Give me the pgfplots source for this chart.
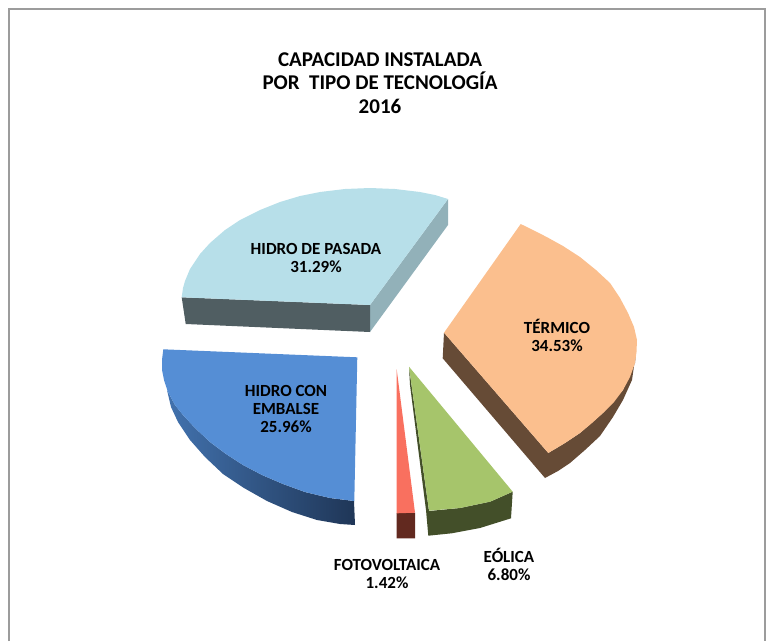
\documentclass[border=0pt]{standalone}
\usepackage{fontspec}
\setmainfont{Carlito}
\usepackage{pgfplots}
\pgfplotsset{compat=1.18}
\definecolor{marco}{HTML}{9C9C9C}
\definecolor{pasadaT}{HTML}{B7DFE9}
\definecolor{pasadaF}{HTML}{505E62}
\definecolor{pasadaL}{HTML}{92B1B9}
\definecolor{embalseT}{HTML}{558ED5}
\definecolor{embalseA}{HTML}{4272AE}
\definecolor{embalseB}{HTML}{1F3657}
\definecolor{termicoT}{HTML}{FBBF8E}
\definecolor{termicoS}{HTML}{664B36}
\definecolor{eolicaT}{HTML}{A6C56B}
\definecolor{eolicaS}{HTML}{434F29}
\definecolor{fotoT}{HTML}{F9705F}
\definecolor{fotoS}{HTML}{62291F}
\tikzset{lab/.style={font=\fontsize{17}{18}\selectfont\bfseries, align=center, text=black}}
\begin{document}
\begin{tikzpicture}
\path[use as bounding box] (0,0) rectangle (771pt,641pt);
\begin{axis}[
    at={(0,0)}, anchor=south west,
    width=771pt, height=641pt, scale only axis,
    hide axis,
    xmin=0, xmax=771, ymin=0, ymax=641,
    y dir=reverse,
    clip=false,
]
% marco
\addplot[marco, line width=1.4pt] coordinates {(9,641)(9,9)(765,9)(765,641)};

% hidro de pasada
\addplot[draw=none, fill=pasadaL] coordinates {(370,305)(448,199)(448,225)(370,332)} --cycle;
\addplot[draw=none, fill=pasadaF] coordinates {(181.7,297.3)(370,305)(370,332)(185.7,324)} --cycle;
\addplot[draw=none, fill=pasadaT] coordinates {(181.7,297.3)(183,288)(185,281)(190,269)(200,254)(210,243)(225,230)(240,220)(260,210)(280,202)(300,196)(320,192)(345,189)(370,188)(395,189)(420,192)(435,195)(448,199)(370,305)} --cycle;

% hidro con embalse
\addplot[draw=none, left color=embalseA, right color=embalseB] coordinates {(167,390)(171,407)(178,422)(190,440)(205,457)(223,474)(244,488)(267,501)(292,512)(317,520)(340,524)(355,525)(354,501)(330,498)(305,492)(283,484)(262,475)(243,465)(226,454)(210,442)(195,428)(183,415)(175,405)} --cycle;
\addplot[draw=none, fill=embalseT] coordinates {(163.3,349.3)(357.3,357.3)(354.3,501)(330,498)(305,492)(283,484)(262,475)(243,465)(226,454)(210,442)(195,428)(183,415)(175,405)(168,392)(164,380)(162,370)(162,360)} --cycle;

% termico
\addplot[draw=none, fill=termicoS] coordinates {(636,352)(632,380)(623,400)(613,417)(600,436)(585,450)(570,463)(558,471)(545,478)(442.7,358.3)(444,332.7)(548.3,453)(565,443)(580,433)(603,413)(623,390)(635,363)} --cycle;
\addplot[draw=none, fill=termicoT] coordinates {(520.7,224)(533,230)(546.7,237)(563,246)(580,257)(596,270)(610,283)(620,298)(628,313)(634,327)(637,340)(636.5,352)(635,363)(630,377)(623,390)(614,402)(603,413)(592,423)(580,433)(565,443)(548.3,453)(444,332.7)} --cycle;

% eolica
\addplot[draw=none, fill=eolicaS] coordinates {(409,367)(429,511)(460,508)(490,501.7)(512.7,491.7)(511,518.3)(480,528)(451.7,533.3)(428.3,535.7)(426,510)(410,385)} --cycle;
\addplot[draw=none, fill=eolicaT] coordinates {(409,366.7)(512.7,491.7)(490,501.7)(460,508)(429,510.7)} --cycle;

% fotovoltaica
\addplot[draw=none, fill=fotoS] coordinates {(396.7,513)(415,512.7)(415,538.3)(396.7,538.3)} --cycle;
\addplot[draw=none, fill=fotoT] coordinates {(396.7,369.3)(415,512.7)(396.7,513.3)} --cycle;

% textos
\node[font=\fontsize{21}{23.5}\selectfont\bfseries, align=center] at (axis cs:380,83) {CAPACIDAD INSTALADA\\POR\ \ TIPO DE TECNOLOGÍA\\2016};
\node[lab] at (axis cs:316,257.5) {HIDRO DE PASADA\\31.29\%};
\node[lab] at (axis cs:286,409) {HIDRO CON\\EMBALSE\\25.96\%};
\node[lab] at (axis cs:557,335) {TÉRMICO\\34.53\%};
\node[lab] at (axis cs:387,574) {FOTOVOLTAICA\\1.42\%};
\node[lab] at (axis cs:509,564) {EÓLICA\\6.80\%};
\end{axis}
\end{tikzpicture}
\end{document}
